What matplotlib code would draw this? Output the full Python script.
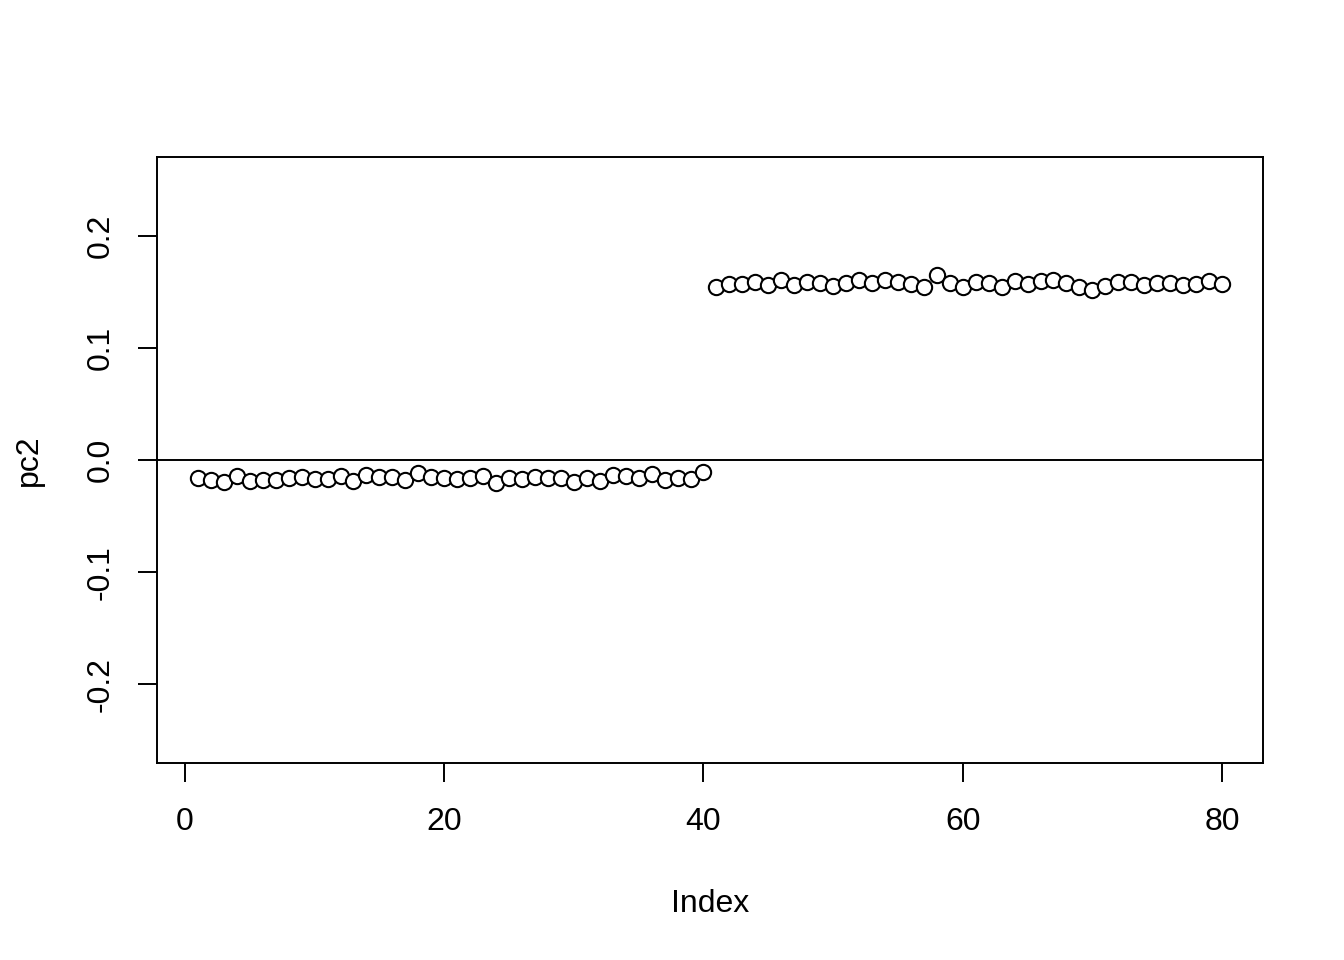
import numpy as np
import matplotlib.pyplot as plt

plt.rcParams['font.family'] = ['Liberation Sans', 'DejaVu Sans']

idx = np.arange(1, 81)
pc2 = [
    -0.0161, -0.0178, -0.0196, -0.0143, -0.0187, -0.0178, -0.0178, -0.0161, -0.0152, -0.0169,
    -0.0169, -0.0143, -0.0187, -0.0134, -0.0152, -0.0152, -0.0178, -0.0116, -0.0152, -0.0161,
    -0.0169, -0.0161, -0.0143, -0.0205, -0.0161, -0.0169, -0.0152, -0.0161, -0.0161, -0.0196,
    -0.0161, -0.0187, -0.0134, -0.0143, -0.0161, -0.0125, -0.0178, -0.0161, -0.0169, -0.0107,
    0.1543, 0.1570, 0.1570, 0.1588, 0.1561, 0.1606, 0.1561, 0.1588, 0.1579, 0.1552,
    0.1579, 0.1606, 0.1579, 0.1606, 0.1588, 0.1570, 0.1543, 0.1650, 0.1579, 0.1543,
    0.1588, 0.1579, 0.1543, 0.1597, 0.1570, 0.1597, 0.1606, 0.1579, 0.1543, 0.1517,
    0.1552, 0.1588, 0.1588, 0.1561, 0.1579, 0.1579, 0.1561, 0.1570, 0.1597, 0.1570,
]
xticks = [0, 20, 40, 60, 80]
yticks = [-0.2, -0.1, 0.0, 0.1, 0.2]

fig = plt.figure(figsize=(13.44, 9.6), dpi=100)
ax = fig.add_axes([0.1168, 0.2052, 0.8229, 0.6313])

ax.plot(idx, pc2, 'o', markersize=11, markerfacecolor='white',
        markeredgecolor='black', markeredgewidth=1.5, linestyle='none')
ax.axhline(0, color='black', linewidth=1.4)

ax.set_xlim(-2.16, 83.16)
ax.set_ylim(-0.27, 0.27)
ax.set_xticks(xticks)
ax.set_yticks(yticks)
ax.set_yticklabels(['-0.2', '-0.1', '0.0', '0.1', '0.2'], rotation=90, va='center')
ax.tick_params(direction='out', length=14, width=1.4, labelsize=23)
ax.tick_params(axis='x', pad=18)
ax.tick_params(axis='y', pad=16)
for s in ax.spines.values():
    s.set_linewidth(1.4)

ax.set_xlabel('Index', fontsize=23, labelpad=37)
ax.set_ylabel('pc2', fontsize=23, labelpad=30)

fig.savefig('out.png', dpi=100)
